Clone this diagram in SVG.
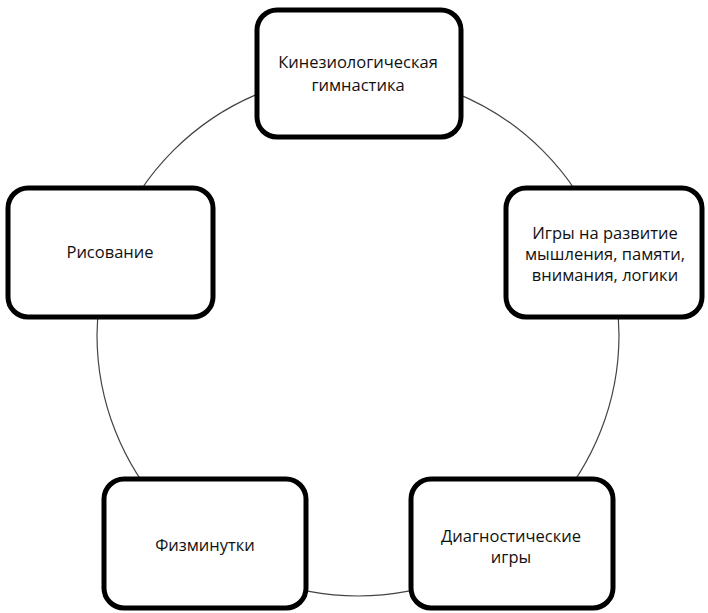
<svg xmlns="http://www.w3.org/2000/svg" width="708" height="613" viewBox="0 0 708 613">
<style>
.box{fill:#fff;stroke:#000;stroke-width:5}
.t{font-family:"Open Sans","Noto Sans",sans-serif;font-size:16.5px;fill:#111;text-anchor:middle}
.ring{fill:none;stroke:#444;stroke-width:1.2}
</style>
<rect width="708" height="613" fill="#fff"/>
<g id="connectors">
<circle class="ring" cx="358" cy="335" r="261"/>
</g>
<g id="node-kinesio">
<rect class="box" x="257" y="10" width="204" height="127" rx="20"/>
<text class="t" x="358" y="68">Кинезиологическая</text>
<text class="t" x="358" y="91">гимнастика</text>
</g>
<g id="node-games">
<rect class="box" x="506" y="188" width="196" height="129" rx="20"/>
<text class="t" x="605" y="239">Игры на развитие</text>
<text class="t" x="605" y="260">мышления, памяти,</text>
<text class="t" x="605" y="281">внимания, логики</text>
</g>
<g id="node-drawing">
<rect class="box" x="8" y="188" width="205" height="129" rx="20"/>
<text class="t" x="110" y="258">Рисование</text>
</g>
<g id="node-fizmin">
<rect class="box" x="104" y="479" width="202" height="129" rx="20"/>
<text class="t" x="205" y="551">Физминутки</text>
</g>
<g id="node-diag">
<rect class="box" x="411" y="479" width="202" height="129" rx="20"/>
<text class="t" x="511" y="542">Диагностические</text>
<text class="t" x="511" y="563">игры</text>
</g>
</svg>
